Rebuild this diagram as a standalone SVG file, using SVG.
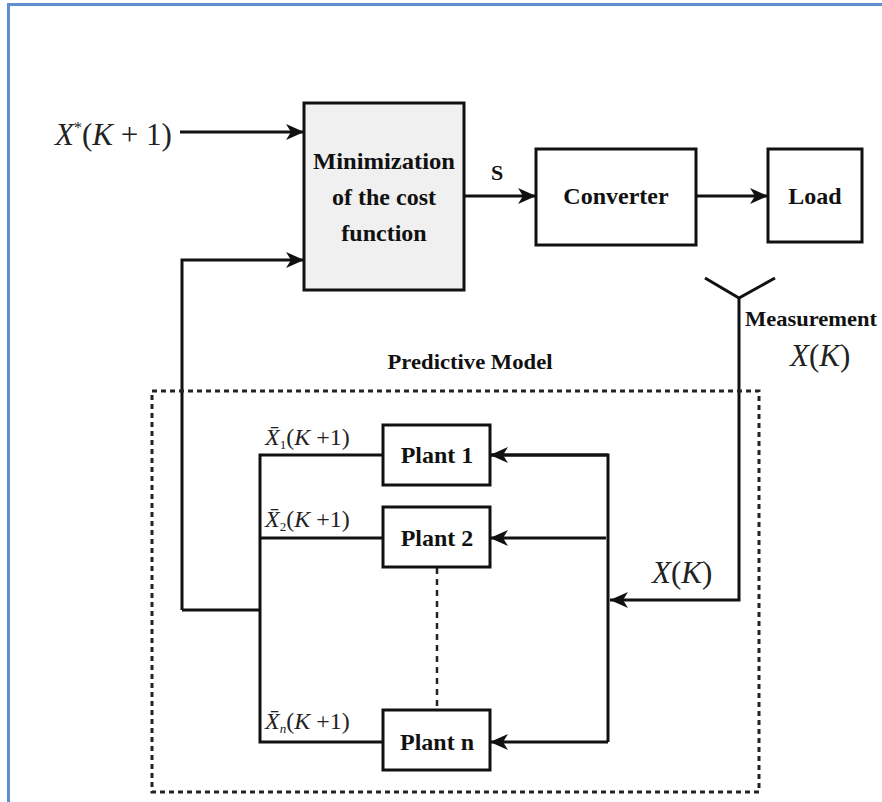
<svg xmlns="http://www.w3.org/2000/svg" width="882" height="802" viewBox="0 0 882 802">
<defs>
<marker id="arr" markerUnits="userSpaceOnUse" markerWidth="20" markerHeight="18" refX="18" refY="9" orient="auto">
<path d="M0,1 L18,9 L0,17 L5,9 Z" fill="#111"/>
</marker>
<style>
.box{fill:#fff;stroke:#111;stroke-width:3}
.gray{fill:#f0f0f0}
.ln{fill:none;stroke:#111;stroke-width:3}
.ar{fill:none;stroke:#111;stroke-width:3;marker-end:url(#arr)}
.dash{fill:none;stroke:#222;stroke-width:3;stroke-dasharray:5,4}
.bt{font-family:'Liberation Serif','Times New Roman',serif;font-weight:700;font-size:24px;fill:#111;text-anchor:middle}
.st{text-anchor:start}
.mt{font-family:'Liberation Serif','Times New Roman',serif;fill:#222}
.it{font-style:italic}
</style>
</defs>
<rect x="8.5" y="4.5" width="900" height="820" fill="#fff" stroke="#5b8fd0" stroke-width="3"/>

<g id="connectors">
<line class="ar" x1="180" y1="132" x2="304" y2="132"/>
<polyline class="ar" points="182,610 182,260 304,260"/>
<line class="ar" x1="464" y1="196" x2="536" y2="196"/>
<line class="ar" x1="696" y1="196" x2="768" y2="196"/>
<polyline class="ln" points="705,278 739,298 775,278"/>
<polyline class="ar" points="739,298 739,600 610,600"/>
<polyline class="ln" points="182,610 260,610"/>
<polyline class="ln" points="383,455 260,455 260,742 383,742"/>
<line class="ln" x1="260" y1="538" x2="383" y2="538"/>
<polyline class="ln" points="490,455 608,455 608,742"/>
<polyline class="ar" points="608,455 490,455"/>
<line class="ar" x1="606" y1="538" x2="490" y2="538"/>
<line class="ar" x1="608" y1="742" x2="490" y2="742"/>
<line x1="437" y1="568" x2="437" y2="710" stroke="#222" stroke-width="2.5" stroke-dasharray="6,5"/>
<rect class="dash" x="152" y="391" width="607" height="401"/>
</g>

<g id="minimization">
<rect class="box gray" x="304" y="103" width="160" height="187"/>
<text class="bt" x="384" y="169" textLength="142" lengthAdjust="spacingAndGlyphs">Minimization</text>
<text class="bt" x="384" y="205">of the cost</text>
<text class="bt" x="384" y="241">function</text>
</g>
<g id="converter">
<rect class="box" x="536" y="149" width="160" height="96"/>
<text class="bt" x="616" y="204">Converter</text>
</g>
<g id="load">
<rect class="box" x="768" y="149" width="94" height="93"/>
<text class="bt" x="815" y="204">Load</text>
</g>
<g id="plant1">
<rect class="box" x="383" y="425" width="107" height="60"/>
<text class="bt" x="437" y="463">Plant 1</text>
</g>
<g id="plant2">
<rect class="box" x="383" y="507" width="107" height="60"/>
<text class="bt" x="437" y="546">Plant 2</text>
</g>
<g id="plantn">
<rect class="box" x="383" y="710" width="107" height="60"/>
<text class="bt" x="437" y="750">Plant n</text>
</g>

<g id="labels">
<text class="mt" x="55" y="145" font-size="31"><tspan class="it">X</tspan><tspan dy="-12" font-size="16">*</tspan><tspan dy="12">(</tspan><tspan class="it">K</tspan><tspan> + 1)</tspan></text>
<text class="bt" x="497" y="180" style="font-size:22px">S</text>
<text class="bt st" x="745" y="326" style="font-size:21px" textLength="132" lengthAdjust="spacingAndGlyphs">Measurement</text>
<text class="mt" x="790" y="366" font-size="31"><tspan class="it">X</tspan>(<tspan class="it">K</tspan>)</text>
<text class="bt" x="470" y="369" style="font-size:21px" textLength="165" lengthAdjust="spacingAndGlyphs">Predictive Model</text>
<text class="mt" x="652" y="583" font-size="31"><tspan class="it">X</tspan>(<tspan class="it">K</tspan>)</text>
<text class="mt" x="265" y="445" font-size="24"><tspan class="it">X̄</tspan><tspan dy="4" font-size="13">1</tspan><tspan dy="-4">(</tspan><tspan class="it">K</tspan> +1)</text>
<text class="mt" x="265" y="527" font-size="24"><tspan class="it">X̄</tspan><tspan dy="4" font-size="13">2</tspan><tspan dy="-4">(</tspan><tspan class="it">K</tspan> +1)</text>
<text class="mt" x="265" y="729" font-size="24"><tspan class="it">X̄</tspan><tspan dy="4" font-size="13" class="it">n</tspan><tspan dy="-4">(</tspan><tspan class="it">K</tspan> +1)</text>
</g>
</svg>
